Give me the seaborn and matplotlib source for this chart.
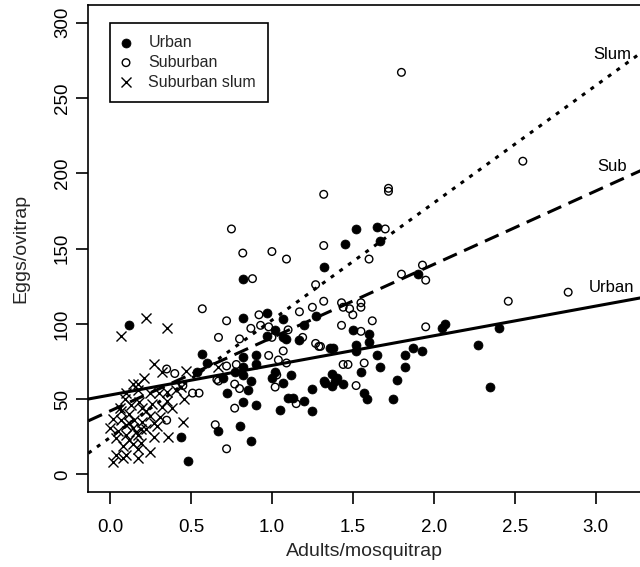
import matplotlib
matplotlib.use("Agg")
import matplotlib.pyplot as plt
import seaborn as sns
import pandas as pd

# ---------------- data ----------------
urban_x = [0.12, 0.44, 0.48, 0.67, 0.80, 0.87, 0.82, 0.90, 1.05, 1.20, 1.25, 0.54, 0.57, 0.60,
           0.70, 0.72, 0.77, 0.82, 0.82, 0.82, 0.82, 0.82, 0.85, 0.87, 0.90, 0.90, 0.97, 0.97,
           1.00, 1.02, 1.02, 1.07, 1.07, 1.07, 1.09, 1.10, 1.12, 1.13, 1.17, 1.20, 1.25, 1.27,
           1.32, 1.32, 1.33, 1.36, 1.38, 1.37, 1.37, 1.39, 1.40, 1.44, 1.45, 1.50, 1.52, 1.52,
           1.52, 1.55, 1.57, 1.59, 1.60, 1.60, 1.65, 1.65, 1.67, 1.67, 1.75, 1.77, 1.82, 1.82,
           1.87, 1.90, 1.93, 2.05, 2.07, 2.27, 2.35, 2.40]
urban_y = [99, 25, 9, 29, 32, 22, 48, 46, 43, 49, 42, 68, 80, 74,
           64, 54, 68, 66, 71, 78, 104, 130, 56, 62, 79, 73, 92, 107,
           64, 96, 68, 103, 91, 61, 90, 51, 66, 51, 89, 99, 57, 105,
           62, 138, 61, 84, 84, 67, 59, 62, 64, 60, 153, 96, 163, 86,
           82, 68, 54, 50, 93, 88, 164, 79, 155, 71, 50, 63, 79, 71,
           84, 133, 82, 97, 100, 86, 58, 97]

suburban_x = [1.80, 2.55, 1.72, 1.72, 1.32, 2.83, 2.46, 1.70, 1.60, 1.32, 1.93, 1.95, 1.80, 1.32,
              1.43, 1.44, 1.48, 1.50, 1.55, 1.55, 1.62, 1.43, 1.55, 1.95, 1.30, 1.44, 1.47, 1.57,
              1.52, 0.75, 0.82, 1.00, 1.09, 0.88, 1.27, 0.57, 0.72, 0.67, 0.80, 0.87, 0.92, 0.93,
              0.98, 1.00, 1.10, 1.17, 1.25, 1.19, 1.27, 1.29, 0.72, 0.78, 0.98, 1.04, 1.07, 1.09,
              0.67, 0.77, 0.80, 1.02, 0.40, 0.35, 0.55, 0.51, 0.35, 0.65, 0.72, 0.77, 1.15, 1.03,
              0.66, 0.45]
suburban_y = [267, 208, 188, 190, 186, 121, 115, 163, 143, 152, 139, 129, 133, 115,
              114, 111, 110, 106, 114, 111, 102, 99, 95, 98, 85, 73, 73, 74,
              59, 163, 147, 148, 143, 130, 126, 110, 102, 91, 90, 97, 106, 99,
              98, 91, 96, 108, 111, 91, 87, 85, 72, 73, 79, 76, 82, 74,
              62, 60, 57, 58, 67, 70, 54, 54, 36, 33, 17, 44, 47, 66,
              63, 59]

slum_x = [0.07, 0.22, 0.35, 0.27, 0.32, 0.47, 0.67, 0.21, 0.14, 0.17, 0.10, 0.17, 0.25, 0.30,
          0.35, 0.41, 0.44, 0.46, 0.35, 0.09, 0.26, 0.32, 0.38, 0.20, 0.07, 0.12, 0.25, 0.31,
          0.02, 0.07, 0.15, 0.20, 0.27, 0.10, 0.00, 0.14, 0.05, 0.22, 0.29, 0.10, 0.17, 0.04,
          0.12, 0.19, 0.08, 0.17, 0.25, 0.10, 0.17, 0.02, 0.08, 0.45, 0.27, 0.36, 0.04, 0.13,
          0.18, 0.22, 0.16, 0.12, 0.19, 0.14, 0.06]
slum_y = [92, 104, 97, 73, 68, 69, 71, 64, 60, 60, 54, 56, 54, 54,
          55, 56, 58, 50, 49, 50, 47, 45, 44, 44, 42, 40, 39, 38,
          37, 36, 36, 35, 34, 33, 31, 31, 29, 30, 32, 26, 26, 24,
          23, 21, 19, 17, 15, 13, 11, 8, 11, 35, 25, 25, 13, 46,
          48, 42, 28, 34, 30, 20, 44]

groups = ["Urban", "Suburban", "Suburban slum"]

# regression lines (intercept, slope) and their labels
line_names = ["Urban", "Sub", "Slum"]
line_intercepts = [52.7, 42.1, 24.5]
line_slopes = [19.69, 48.7, 77.9]
label_x = [3.10, 3.10, 3.10]
label_y = [124.4, 204.8, 279.0]

x_ticks = [0.0, 0.5, 1.0, 1.5, 2.0, 2.5, 3.0]
x_ticklabels = ["0.0", "0.5", "1.0", "1.5", "2.0", "2.5", "3.0"]
y_ticks = [0, 50, 100, 150, 200, 250, 300]

# ---------------- style ----------------
sns.set_style("ticks")
plt.rcParams["font.family"] = ["Liberation Sans", "DejaVu Sans"]

df = pd.concat([
    pd.DataFrame({"x": urban_x, "y": urban_y, "g": groups[0]}),
    pd.DataFrame({"x": suburban_x, "y": suburban_y, "g": groups[1]}),
    pd.DataFrame({"x": slum_x, "y": slum_y, "g": groups[2]}),
], ignore_index=True)

fig = plt.figure(figsize=(6.4, 5.67), dpi=100)
ax = fig.add_axes([0.138, 0.1317, 0.8636, 0.8594])

d = df[df.g == groups[0]]
sns.scatterplot(data=d, x="x", y="y", ax=ax, marker="o", color="black",
                edgecolor="black", linewidth=0.5, s=42, legend=False)
h_urban = ax.collections[-1]

d = df[df.g == groups[1]]
sns.scatterplot(data=d, x="x", y="y", ax=ax, marker="o", color="black",
                edgecolor="black", linewidth=1.0, s=30, legend=False)
h_sub = ax.collections[-1]
h_sub.set_facecolor("none")
h_sub.set_edgecolor("black")

d = df[df.g == groups[2]]
sns.scatterplot(data=d, x="x", y="y", ax=ax, marker="x", color="black",
                linewidth=1.0, s=52, legend=False)
h_slum = ax.collections[-1]

styles = ["-", (0, (4.9, 2.6)), (0, (1.3, 2.2))]
for b, m, ls in zip(line_intercepts, line_slopes, styles):
    ax.axline((0, b), slope=m, color="black", linewidth=2.2, linestyle=ls)

for name, tx, ty in zip(line_names, label_x, label_y):
    ax.text(tx, ty, name, ha="center", va="center", fontsize=12, color="black")

ax.set_xlim(-0.134, 3.28)
ax.set_ylim(-11.9, 311.7)
ax.set_xticks(x_ticks)
ax.set_xticklabels(x_ticklabels)
ax.set_yticks(y_ticks)
ax.set_yticklabels([str(v) for v in y_ticks], rotation=90, va="center")

for sp in ax.spines.values():
    sp.set_visible(True)
    sp.set_linewidth(1.2)
    sp.set_color("black")

ax.tick_params(axis="both", direction="out", length=8.5, width=1.2,
               labelsize=13.5, color="black", labelcolor="black")
ax.tick_params(axis="x", pad=10.5)
ax.tick_params(axis="y", pad=4)
ax.set_xlabel("Adults/mosquitrap", fontsize=14, labelpad=5)
ax.set_ylabel("Eggs/ovitrap", fontsize=14, labelpad=18)

leg = ax.legend([h_urban, h_sub, h_slum], groups, loc="upper left",
                bbox_to_anchor=(0.0393, 0.963), borderaxespad=0,
                frameon=True, fancybox=False, edgecolor="black", framealpha=1,
                fontsize=11.5, borderpad=0.75, handlelength=0.5, handletextpad=1.15,
                labelspacing=0.3, scatterpoints=1)
leg.get_frame().set_linewidth(1.2)

fig.savefig("out.png", dpi=100)
